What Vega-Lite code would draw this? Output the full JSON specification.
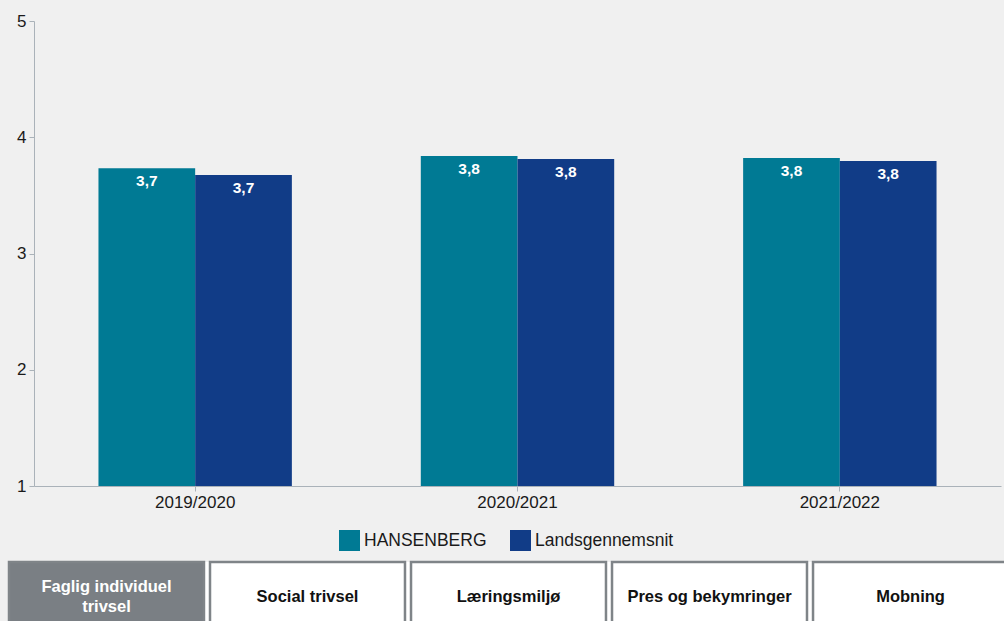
{
  "$schema": "https://vega.github.io/schema/vega-lite/v6.json",
  "background": "#f0f0f0",
  "padding": {"left": 7, "top": 12, "right": 0, "bottom": 0},
  "spacing": 50,
  "config": {
    "locale": {"number": {"decimal": ",", "thousands": ".", "grouping": [3], "currency": ["", " kr."]}},
    "font": "Liberation Sans",
    "view": {"stroke": null}
  },
  "vconcat": [
    {
      "width": 992,
      "height": 465,
      "data": {
        "values": [
          {"year": "2019/2020", "series": "HANSENBERG", "value": 3.733},
          {"year": "2019/2020", "series": "Landsgennemsnit", "value": 3.675},
          {"year": "2020/2021", "series": "HANSENBERG", "value": 3.839},
          {"year": "2020/2021", "series": "Landsgennemsnit", "value": 3.813},
          {"year": "2021/2022", "series": "HANSENBERG", "value": 3.821},
          {"year": "2021/2022", "series": "Landsgennemsnit", "value": 3.796}
        ]
      },
      "encoding": {
        "x": {
          "field": "year", "type": "nominal", "sort": null,
          "scale": {"paddingInner": 0.4, "paddingOuter": 0.2, "range": [25, 992]},
          "axis": {
            "title": null, "labelAngle": 0, "labelFontSize": 17, "labelColor": "#1a1a1a",
            "domainColor": "#aab2b9", "tickColor": "#aab2b9", "tickSize": 5,
            "labelPadding": 3, "bandPosition": 0.5, "zindex": 1
          }
        },
        "xOffset": {
          "field": "series", "type": "nominal",
          "sort": ["HANSENBERG", "Landsgennemsnit"],
          "scale": {"paddingInner": 0, "paddingOuter": 0}
        },
        "y": {
          "field": "value", "type": "quantitative",
          "scale": {"domain": [1, 5], "nice": false, "zero": false},
          "axis": {
            "title": null, "values": [1, 2, 3, 4, 5], "format": "d", "grid": false,
            "labelFontSize": 17, "labelColor": "#1a1a1a",
            "domainColor": "#aab2b9", "tickColor": "#aab2b9", "tickSize": 5,
            "labelPadding": 3, "offset": -25, "zindex": 1
          }
        }
      },
      "layer": [
        {
          "mark": {"type": "bar"},
          "encoding": {
            "y2": {"datum": 1},
            "color": {
              "field": "series", "type": "nominal",
              "scale": {"domain": ["HANSENBERG", "Landsgennemsnit"], "range": ["#007a94", "#113c87"]},
              "legend": {
                "title": null, "orient": "none", "legendX": 330, "legendY": 509,
                "direction": "horizontal", "symbolType": "square", "symbolSize": 441,
                "symbolStrokeWidth": 0,
                "labelFontSize": 17.5, "labelColor": "#1a1a1a", "labelOffset": 4,
                "columnPadding": 23, "padding": 0
              }
            }
          }
        },
        {
          "mark": {"type": "text", "color": "#ffffff", "fontWeight": "bold", "fontSize": 15.5, "baseline": "alphabetic", "dy": 18},
          "encoding": {
            "text": {"field": "value", "type": "quantitative", "format": ".1f"}
          }
        }
      ]
    },
    {
      "width": 999,
      "height": 70,
      "view": {"fill": "#ffffff", "stroke": null},
      "data": {
        "values": [
          {"tab": "Faglig individuel\ntrivsel"},
          {"tab": "Social trivsel"},
          {"tab": "Læringsmiljø"},
          {"tab": "Pres og bekymringer"},
          {"tab": "Mobning"}
        ]
      },
      "encoding": {
        "x": {
          "field": "tab", "type": "nominal", "sort": null,
          "scale": {"paddingInner": 0.03, "paddingOuter": 0},
          "axis": null
        }
      },
      "layer": [
        {
          "mark": {"type": "rect", "stroke": "#7f8488", "strokeWidth": 2.5},
          "encoding": {
            "fill": {
              "condition": {"test": "indexof(datum.tab, 'Faglig') === 0", "value": "#7a7f84"},
              "value": "#ffffff"
            }
          }
        },
        {
          "transform": [{"filter": "indexof(datum.tab, '\\n') < 0"}],
          "mark": {"type": "text", "fontWeight": "bold", "fontSize": 16.5, "color": "#111111"},
          "encoding": {
            "text": {"field": "tab", "type": "nominal"}
          }
        },
        {
          "transform": [{"filter": "indexof(datum.tab, '\\n') >= 0"}],
          "mark": {"type": "text", "fontWeight": "bold", "fontSize": 16.5, "lineBreak": "\n", "lineHeight": 20, "dy": -10, "color": "#ffffff"},
          "encoding": {
            "text": {"field": "tab", "type": "nominal"}
          }
        }
      ]
    }
  ]
}
